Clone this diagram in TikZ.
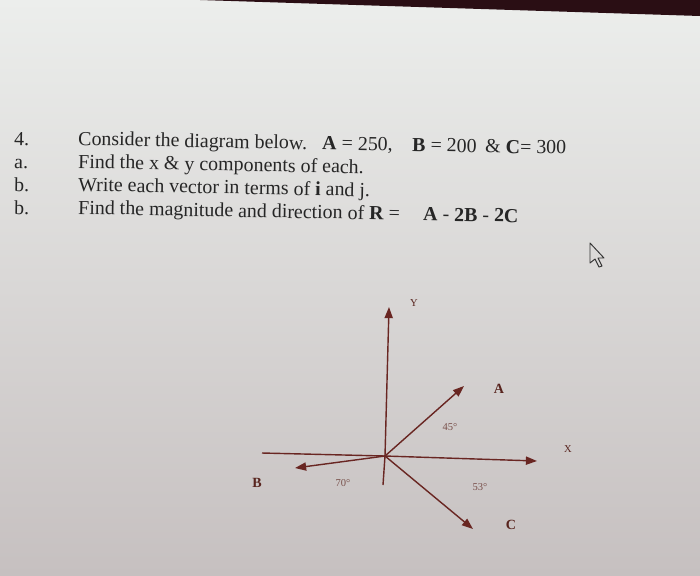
\documentclass[tikz,border=0pt]{standalone}
\usepackage{fontspec}
\setmainfont{Liberation Serif}
\usetikzlibrary{arrows.meta}
\definecolor{vecred}{RGB}{105,38,34}
\definecolor{lblbrown}{RGB}{88,36,30}
\definecolor{screentop}{RGB}{236,238,236}
\definecolor{screenbot}{RGB}{198,192,192}
\definecolor{bezel}{RGB}{42,14,20}
\begin{document}
\begin{tikzpicture}[x=0.03cm,y=-0.03cm,
  qtext/.style={anchor=base west,inner sep=0pt,rotate=-1.1,font=\fontsize{17}{20}\selectfont,text=black!85},
  axline/.style={line width=1.2pt,vecred},
  vec/.style={-{Triangle[length=9.5pt,width=7pt]},line width=1.2pt,vecred},
  axlbl/.style={inner sep=0pt,text=lblbrown,font=\fontsize{12}{14}\selectfont},
  anglbl/.style={inner sep=0pt,text=lblbrown!80,font=\fontsize{9}{11}\selectfont}]
\useasboundingbox (0,0) rectangle (700,575);
% screen background
\shade[top color=screentop,bottom color=screenbot] (0,0) rectangle (700,575);
\fill[bezel] (200,0) -- (700,0) -- (700,16) -- cycle;
% question text
\node[qtext] (n4) at (14,145) {4.};
\node[qtext] (na) at (14,168) {a.};
\node[qtext] (nb) at (14,191) {b.};
\node[qtext] (nc) at (14,214) {b.};
\node[qtext] (t1) at (78,145) {Consider the diagram below.};
\node[qtext] (t1a) at (322,149.5) {\textbf{A} = 250,};
\node[qtext] (t1b) at (412,151.2) {\textbf{B} = 200};
\node[qtext] (t1c) at (485,152.6) {\& \textbf{C}= 300};
\node[qtext] (t2) at (78,168) {Find the x \& y components of each.};
\node[qtext] (t3) at (78,191) {Write each vector in terms of \textbf{i} and j.};
\node[qtext] (t4) at (78,214) {Find the magnitude and direction of \textbf{R} =};
\node[qtext] (t4r) at (423,220.5) {\textbf{A} - \textbf{2B} - \textbf{2C}};
% axes
\coordinate (O) at (385,456);
\coordinate (xl) at (262,453);
\coordinate (xr) at (537,461);
\coordinate (yb) at (383,485);
\coordinate (yt) at (389,307);
\draw[axline] (xl) -- (O);
\draw[vec] (O) -- (xr);
\draw[axline] (yb) -- (O);
\draw[vec] (O) -- (yt);
% the three vectors
\coordinate (Aend) at (464,386);
\coordinate (Bend) at (295,468);
\coordinate (Cend) at (473,529);
\draw[vec] (O) -- (Aend);
\draw[vec] (O) -- (Bend);
\draw[vec] (O) -- (Cend);
% labels
\node[axlbl,font=\fontsize{9}{11}\selectfont] (ylbl) at (414,303) {Y};
\node[axlbl,font=\fontsize{9}{11}\selectfont] (xlbl) at (568,449) {X};
\node[axlbl] (albl) at (499,389) {\textbf{A}};
\node[axlbl] (blbl) at (257,483) {\textbf{B}};
\node[axlbl] (clbl) at (511,525) {\textbf{C}};
\node[anglbl] (ang45) at (450,427) {45\textdegree};
\node[anglbl] (ang70) at (343,483) {70\textdegree};
\node[anglbl] (ang53) at (480,487) {53\textdegree};
% mouse pointer
\draw[black!80,line width=0.8pt,line join=round] (590,243) -- (590,263) -- (595,259) -- (599,267) -- (602,266) -- (598,258) -- (604,258) -- cycle;
\end{tikzpicture}
\end{document}
